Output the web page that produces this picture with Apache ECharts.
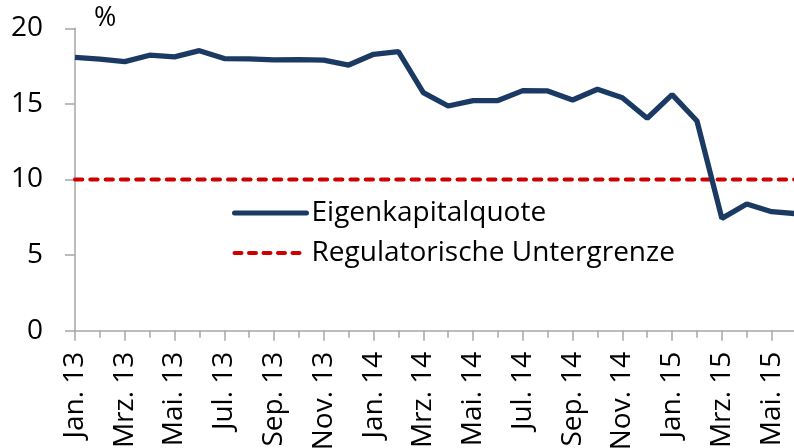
<!DOCTYPE html>
<html>
<head>
<meta charset="utf-8">
<script src="https://cdn.jsdelivr.net/npm/echarts@6/dist/echarts.min.js"></script>
<style>
  html, body { margin: 0; padding: 0; background: #fff; }
  #chart { width: 794px; height: 448px; }
</style>
</head>
<body>
<div id="chart"></div>
<script>
  // Monatsachse Jan. 13 - Jun. 15
  const months = [
    'Jan. 13', 'Feb. 13', 'Mrz. 13', 'Apr. 13', 'Mai. 13', 'Jun. 13',
    'Jul. 13', 'Aug. 13', 'Sep. 13', 'Okt. 13', 'Nov. 13', 'Dez. 13',
    'Jan. 14', 'Feb. 14', 'Mrz. 14', 'Apr. 14', 'Mai. 14', 'Jun. 14',
    'Jul. 14', 'Aug. 14', 'Sep. 14', 'Okt. 14', 'Nov. 14', 'Dez. 14',
    'Jan. 15', 'Feb. 15', 'Mrz. 15', 'Apr. 15', 'Mai. 15', 'Jun. 15'
  ];
  // Eigenkapitalquote in %
  const eigenkapitalquote = [
    18.08, 17.96, 17.8, 18.22, 18.11, 18.52, 18.0, 17.98, 17.91, 17.93,
    17.89, 17.57, 18.28, 18.45, 15.75, 14.86, 15.22, 15.22, 15.88, 15.86,
    15.26, 15.97, 15.41, 14.05, 15.61, 13.87, 7.43, 8.38, 7.87, 7.74
  ];
  // Regulatorische Untergrenze in %
  const untergrenze = [
    10, 10, 10, 10, 10, 10, 10, 10, 10, 10,
    10, 10, 10, 10, 10, 10, 10, 10, 10, 10,
    10, 10, 10, 10, 10, 10, 10, 10, 10, 10
  ];
  const yTicks = { min: 0, max: 20, step: 5 };

  const font = '"Open Sans", "Noto Sans", sans-serif';
  const axisGrey = '#a6a6a6';

  let chart = echarts.init(document.getElementById('chart'));
  chart.setOption({
    animation: false,
    textStyle: { fontFamily: font },
    grid: { left: 75, top: 28.3, bottom: 117.3, right: -2.5, containLabel: false, outerBoundsMode: 'none' },
    graphic: [{
      type: 'text',
      left: 94,
      top: 5,
      style: { text: '%', font: '27px ' + font, fill: '#000' }
    }],
    legend: {
      orient: 'vertical',
      left: 232,
      top: 198,
      padding: 0,
      itemWidth: 72,
      itemHeight: 14,
      itemGap: 10,
      textStyle: { fontSize: 28, color: '#000', lineHeight: 30, fontFamily: font },
      data: [
        { name: 'Eigenkapitalquote', itemStyle: { opacity: 0 }, lineStyle: { width: 5, cap: 'round' } },
        { name: 'Regulatorische Untergrenze', itemStyle: { opacity: 0 }, lineStyle: { width: 4, type: [7, 7.5], cap: 'round' } }
      ]
    },
    xAxis: [{
      type: 'category',
      data: months,
      boundaryGap: false,
      axisLine: { lineStyle: { color: axisGrey, width: 1.5 } },
      axisTick: { interval: 1, length: 10, lineStyle: { color: axisGrey, width: 1.5 } },
      axisLabel: { interval: 1, rotate: 90, margin: 21, fontSize: 28, color: '#000', fontFamily: font },
      splitLine: { show: false }
    }, {
      type: 'category',
      data: months,
      boundaryGap: false,
      position: 'bottom',
      axisLine: { show: false },
      axisTick: { interval: 0, length: 7, lineStyle: { color: axisGrey, width: 1.5 } },
      axisLabel: { show: false },
      splitLine: { show: false }
    }],
    yAxis: {
      type: 'value',
      min: yTicks.min,
      max: yTicks.max,
      interval: yTicks.step,
      axisLine: { show: true, lineStyle: { color: axisGrey, width: 1.5 } },
      axisTick: { show: true, length: 10, lineStyle: { color: axisGrey, width: 1.5 } },
      axisLabel: { margin: 32, fontSize: 28, color: '#000', fontFamily: font },
      splitLine: { show: false }
    },
    series: [
      {
        name: 'Eigenkapitalquote',
        type: 'line',
        data: eigenkapitalquote,
        symbol: 'none',
        color: '#1b3a63',
        lineStyle: { width: 5.3, color: '#1b3a63' },
        z: 3
      },
      {
        name: 'Regulatorische Untergrenze',
        type: 'line',
        data: untergrenze,
        symbol: 'none',
        color: '#cc0000',
        lineStyle: { width: 4, color: '#cc0000', type: [7.3, 8], cap: 'round' },
        z: 2
      }
    ]
  });
</script>
</body>
</html>
